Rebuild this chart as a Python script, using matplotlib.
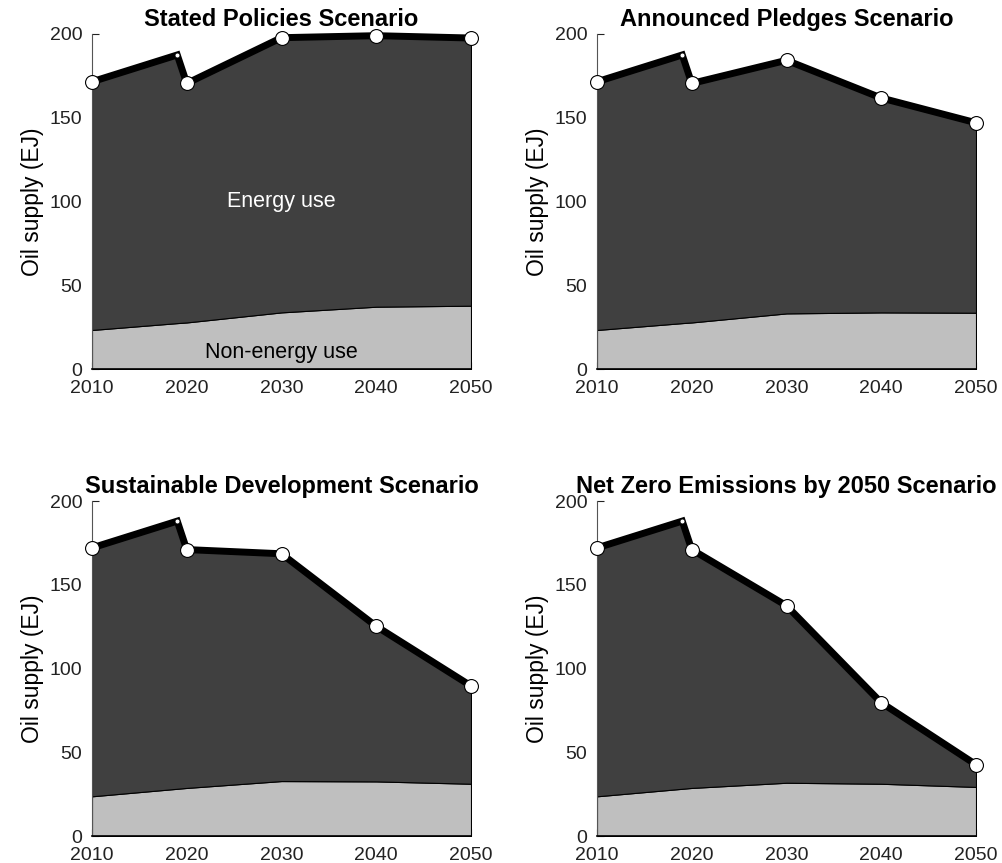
import matplotlib.pyplot as plt
import numpy as np

plt.rcParams['font.family'] = ['Liberation Sans', 'DejaVu Sans']

# years (2019 is the pre-covid point)
years = [2010, 2019, 2020, 2030, 2040, 2050]
tick_years = [2010, 2020, 2030, 2040, 2050]

titles = ['Stated Policies Scenario', 'Announced Pledges Scenario',
          'Sustainable Development Scenario', 'Net Zero Emissions by 2050 Scenario']

# total oil supply (EJ)
total_steps = [171.5, 187.5, 170.5, 197.8, 199.0, 197.6]
total_aps = [171.5, 187.5, 170.5, 184.3, 161.8, 147.0]
total_sds = [172.0, 188.0, 171.0, 168.5, 125.2, 89.6]
total_nze = [172.0, 188.0, 171.0, 137.5, 79.6, 42.6]

# non-energy use (EJ)
nonenergy_steps = [23.3, 27.4, 27.8, 33.8, 37.2, 37.8]
nonenergy_aps = [23.3, 27.4, 27.8, 33.2, 33.8, 33.6]
nonenergy_sds = [23.7, 28.2, 28.7, 32.8, 32.6, 31.2]
nonenergy_nze = [23.7, 28.2, 28.7, 31.8, 31.2, 29.3]

totals = [total_steps, total_aps, total_sds, total_nze]
nonenergy = [nonenergy_steps, nonenergy_aps, nonenergy_sds, nonenergy_nze]

fig = plt.figure(figsize=(10.02, 8.63), dpi=100)
W, H = 1002, 863
boxes = [(92, 34), (597, 34), (92, 501), (597, 501)]  # left, top in px
aw, ah = 379, 335

for i in range(4):
    l, t = boxes[i]
    ax = fig.add_axes([l / W, 1 - (t + ah) / H, aw / W, ah / H])
    x = np.array(years)
    tot = np.array(totals[i])
    ne = np.array(nonenergy[i])

    ax.fill_between(x, 0, ne, facecolor='#bfbfbf', edgecolor='black', linewidth=0.8)
    ax.fill_between(x, ne, tot, facecolor='#404040', edgecolor='black', linewidth=0.8)
    ax.plot(x, tot, color='black', linewidth=5, solid_joinstyle='miter', zorder=3, clip_on=False)

    # markers: big ones at decade years, small at 2019
    big = [j for j, yr in enumerate(years) if yr in tick_years]
    ax.plot(x[big], tot[big], 'o', markersize=10, markerfacecolor='white',
            markeredgecolor='black', markeredgewidth=0.8, zorder=4, clip_on=False)
    ax.plot([2019], [tot[years.index(2019)]], 'o', markersize=3.5, markerfacecolor='white',
            markeredgecolor='black', markeredgewidth=0.5, zorder=4, clip_on=False)

    ax.set_xlim(2010, 2050)
    ax.set_ylim(0, 200)
    ax.set_xticks(tick_years)
    ax.set_yticks([0, 50, 100, 150, 200])
    ax.tick_params(direction='in', length=5, labelsize=14, colors='#222222')
    ax.tick_params(axis='x', pad=8)
    ax.tick_params(axis='y', pad=7)
    ax.set_axisbelow(True)
    for s in ['top', 'right']:
        ax.spines[s].set_visible(False)
    ax.spines['left'].set_color('#555555')
    ax.spines['left'].set_linewidth(0.8)
    ax.spines['bottom'].set_linewidth(1.2)
    ax.set_ylabel('Oil supply (EJ)', fontsize=16.5, labelpad=4)
    ax.set_title(titles[i], fontsize=17, fontweight='bold', pad=6)

    if i == 0:
        ax.text(2030, 100, 'Energy use', color='white', fontsize=15.5, ha='center', va='center')
        ax.text(2030, 10, 'Non-energy use', color='black', fontsize=15.5, ha='center', va='center')

fig.savefig('out.png', dpi=100)
